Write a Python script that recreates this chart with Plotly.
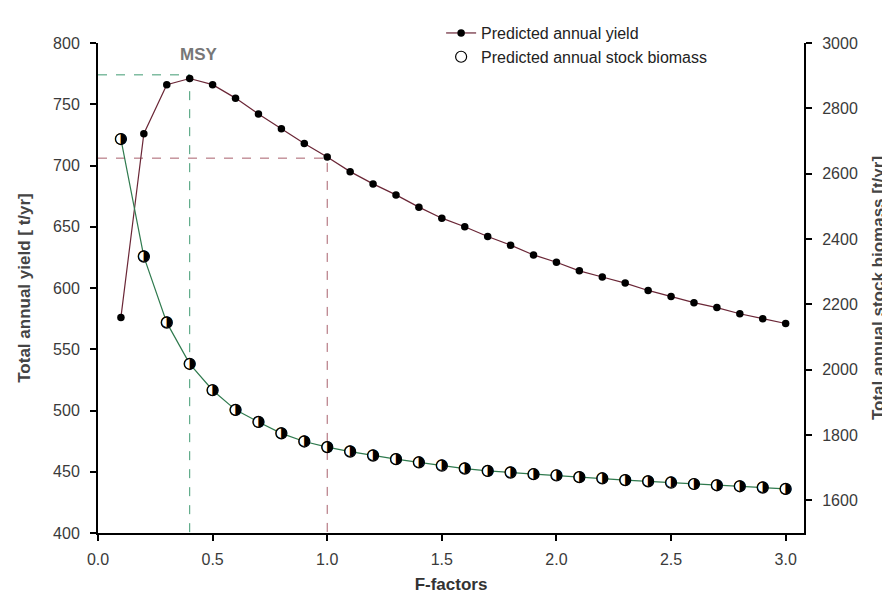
import plotly.graph_objects as go

f_factors = [0.1, 0.2, 0.3, 0.4, 0.5, 0.6, 0.7, 0.8, 0.9, 1.0,
             1.1, 1.2, 1.3, 1.4, 1.5, 1.6, 1.7, 1.8, 1.9, 2.0,
             2.1, 2.2, 2.3, 2.4, 2.5, 2.6, 2.7, 2.8, 2.9, 3.0]
annual_yield = [576, 726, 766, 771, 766, 755, 742, 730, 718, 707,
                695, 685, 676, 666, 657, 650, 642, 635, 627, 621,
                614, 609, 604, 598, 593, 588, 584, 579, 575, 571]
stock_biomass = [2706, 2346, 2144, 2018, 1937, 1877, 1840, 1805, 1780, 1763,
                 1749, 1737, 1726, 1716, 1706, 1697, 1690, 1685, 1680, 1676,
                 1671, 1667, 1662, 1658, 1654, 1650, 1646, 1643, 1639, 1635]
msy_f = 0.4
msy_yield = 774
ref_f = 1.0
ref_yield = 706
x_ticks = [0.0, 0.5, 1.0, 1.5, 2.0, 2.5, 3.0]
y_ticks = [400, 450, 500, 550, 600, 650, 700, 750, 800]
y2_ticks = [1600, 1800, 2000, 2200, 2400, 2600, 2800, 3000]

FONT = "Liberation Sans, Arial, sans-serif"
fig = go.Figure()

# reference dashed lines
fig.add_trace(go.Scatter(x=[0, msy_f, msy_f], y=[msy_yield, msy_yield, 400], mode="lines",
                         line=dict(color="#3f9a72", width=1, dash="dash"),
                         showlegend=False, hoverinfo="skip"))
fig.add_trace(go.Scatter(x=[0, ref_f, ref_f], y=[ref_yield, ref_yield, 400], mode="lines",
                         line=dict(color="#a8606c", width=1, dash="dash"),
                         showlegend=False, hoverinfo="skip"))

fig.add_trace(go.Scatter(x=f_factors, y=annual_yield, mode="lines+markers",
                         name="Predicted annual yield", legendgroup="a",
                         line=dict(color="#6a2636", width=1.2),
                         marker=dict(symbol="circle", size=7.5, color="black")))
fig.add_trace(go.Scatter(x=f_factors, y=stock_biomass, mode="lines", yaxis="y2",
                         showlegend=False, line=dict(color="#2f7a4e", width=1.2),
                         hoverinfo="skip"))
fig.add_trace(go.Scatter(x=f_factors, y=stock_biomass, mode="markers+text", yaxis="y2",
                         name="Predicted annual stock biomass", legendgroup="b",
                         text=["\u25D1"] * len(f_factors), textposition="middle center",
                         textfont=dict(family="DejaVu Sans", size=15, color="black"),
                         marker=dict(symbol="circle", size=11, color="white",
                                     line=dict(color="black", width=1.2))))

fig.add_annotation(x=0.44, y=791, xref="x", yref="y", text="<b>MSY</b>", showarrow=False,
                   font=dict(family=FONT, size=17, color="#777777"))

axis_common = dict(showgrid=False, zeroline=False, showline=True, linecolor="black", linewidth=2,
                   ticks="outside", ticklen=6, tickwidth=2, tickcolor="black",
                   automargin=False,
                   tickfont=dict(family=FONT, size=16, color="#3a3a3a"))

fig.update_layout(
    width=890, height=598,
    margin=dict(l=90, r=94, t=35, b=73, autoexpand=False),
    plot_bgcolor="white", paper_bgcolor="white",
    font=dict(family=FONT, color="#333"),
    xaxis=dict(range=[0, 3.08], tickvals=x_ticks, tickformat=".1f", ticklabelstandoff=5,
               title=dict(text="<b>F-factors</b>", font=dict(family=FONT, size=17, color="#333"), standoff=11),
               **axis_common),
    yaxis=dict(range=[400, 800], tickvals=y_ticks, ticklabelstandoff=7,
               title=dict(text="<b>Total annual yield [ t/yr]</b>", font=dict(family=FONT, size=17, color="#444"), standoff=18),
               **axis_common),
    yaxis2=dict(range=[1500, 3000], tickvals=y2_ticks, overlaying="y", side="right", ticklabelstandoff=7,
                title=dict(text="<b>Total annual stock biomass [t/yr]</b>", font=dict(family=FONT, size=17, color="#444"), standoff=15),
                **axis_common),
    legend=dict(x=0.486, y=1.055, xanchor="left", yanchor="top", bgcolor="rgba(0,0,0,0)",
                font=dict(family=FONT, size=16, color="#222"), tracegroupgap=0,
                itemwidth=30),
    showlegend=True,
)

fig.write_html("out.html")
